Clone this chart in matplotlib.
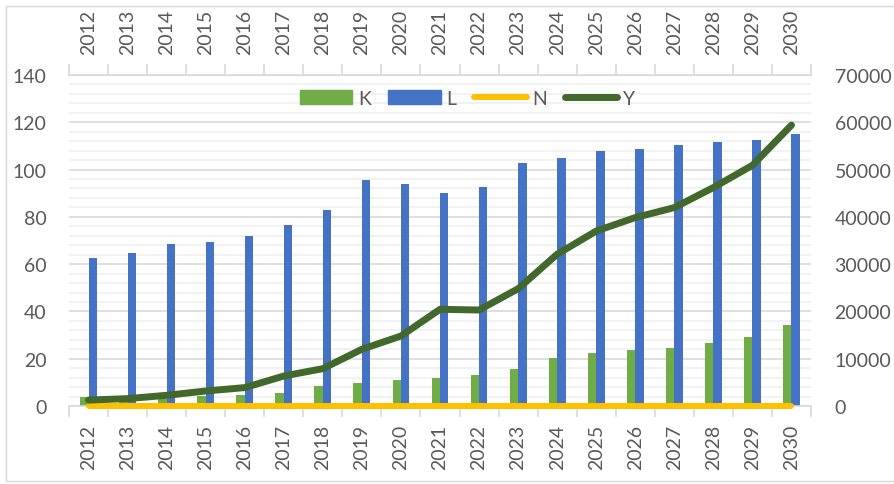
import matplotlib as mpl
mpl.use('Agg')

import numpy as np
import matplotlib.pyplot as plt
from matplotlib.patches import Patch, Rectangle
from matplotlib.lines import Line2D

years = [str(y) for y in range(2012, 2031)]
K = [3.6, 3.7, 4.0, 4.4, 4.5, 5.5, 8.6, 9.6, 11.0, 12.0, 13.1, 15.8,
     20.4, 22.4, 23.6, 24.5, 26.6, 29.3, 34.3]
L = [62.5, 64.7, 68.4, 69.5, 71.9, 76.7, 82.8, 95.5, 94.0, 90.0, 92.5,
     102.9, 104.8, 107.7, 108.6, 110.5, 111.5, 112.7, 114.9]
N = [0, 0, 0, 0, 0, 0, 0, 0, 0, 0, 0, 0, 0, 0, 0, 0, 0, 0, 0]
Y = [1250, 1560, 2260, 3170, 3890, 6340, 7900, 12000, 14800, 20450, 20300,
     24800, 32100, 37000, 39850, 41960, 46200, 50900, 59400]

txt = '#595959'
plt.rcParams['font.family'] = ['Lato', 'DejaVu Sans']
plt.rcParams['font.size'] = 14

fig = plt.figure(figsize=(8.94, 4.85), dpi=100)
# chart area border
fig.patches.append(Rectangle((6/894, 3/485), 900/894, 475/485, transform=fig.transFigure,
                             fill=False, edgecolor='#D9D9D9', linewidth=1))

ax = fig.add_axes([69/894, 1-407/485, 742/894, 331/485])
x = np.arange(len(years))
w = 0.215
ax.bar(x - w/2, K, w, color='#70AD47', zorder=2)
ax.bar(x + w/2, L, w, color='#4472C4', zorder=2)
ax.set_xlim(-0.5, len(years) - 0.5)
ax.set_ylim(0, 140)
ax.set_yticks(np.arange(0, 141, 20))
ax.set_yticks(np.arange(0, 141, 4), minor=True)
ax.grid(axis='y', which='major', color='#D9D9D9', linewidth=1.2, zorder=0)
ax.grid(axis='y', which='minor', color='#F0F0F0', linewidth=1.2, zorder=0)
ax.set_axisbelow(True)
for s in ['left', 'right', 'top']:
    ax.spines[s].set_visible(False)
ax.spines['bottom'].set_color('#D9D9D9')
ax.spines['bottom'].set_linewidth(1.2)
ax.set_xticks(np.arange(-0.5, len(years), 1))
ax.set_xticklabels([])
ax.set_xticks(x, minor=True)
ax.set_xticklabels(years, minor=True, rotation=90)
ax.tick_params(axis='x', which='major', length=8, color='#D9D9D9', width=1.2)
ax.tick_params(axis='x', which='minor', length=0, pad=13, colors=txt)
ax.tick_params(axis='y', which='both', length=0, pad=16, colors=txt)

# top category axis
axt = ax.twiny()
axt.set_xlim(ax.get_xlim())
axt.set_xticks(np.arange(-0.5, len(years), 1))
axt.set_xticklabels([])
axt.set_xticks(x, minor=True)
axt.set_xticklabels(years, minor=True, rotation=90)
axt.tick_params(axis='x', which='major', length=8, color='#D9D9D9', width=1.2)
axt.tick_params(axis='x', which='minor', length=0, pad=15, colors=txt)
for s in ['left', 'right', 'bottom']:
    axt.spines[s].set_visible(False)
axt.spines['top'].set_color('#D9D9D9')
axt.spines['top'].set_linewidth(1.2)

ax2 = ax.twinx()
ax2.plot(x, N, color='#FFC000', linewidth=4.3, solid_capstyle='round', zorder=3,
         clip_on=False)
ax2.plot(x, Y, color='#43682B', linewidth=5, solid_capstyle='round', zorder=4,
         clip_on=False)
ax2.set_ylim(0, 70000)
ax2.set_yticks(np.arange(0, 70001, 10000))
ax2.tick_params(axis='y', length=0, pad=17, colors=txt)
for s in ['left', 'right', 'top', 'bottom']:
    ax2.spines[s].set_visible(False)

handles = [Patch(color='#70AD47'), Patch(color='#4472C4'),
           Line2D([], [], color='#FFC000', linewidth=4.3, solid_capstyle='round'),
           Line2D([], [], color='#43682B', linewidth=5, solid_capstyle='round')]
leg = ax2.legend(handles, ['K', 'L', 'N', 'Y'], loc='center', bbox_to_anchor=(0.537, 0.93),
                 ncol=4, frameon=False, handlelength=2.7, handletextpad=0.3,
                 columnspacing=0.9, fontsize=14)
for t in leg.get_texts():
    t.set_color(txt)

fig.savefig('out.png', dpi=100)
